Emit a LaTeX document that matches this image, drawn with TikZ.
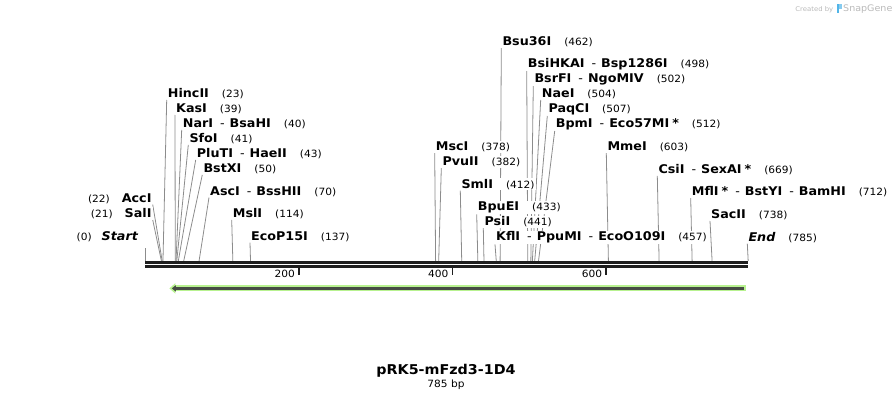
\documentclass[tikz,border=0pt]{standalone}
\usepackage{fontspec}
\setmainfont{DejaVu Sans}[FakeStretch=1.06]
\usepackage{tikz}
\usetikzlibrary{arrows.meta,backgrounds}
\usepackage{xcolor}

\definecolor{cutgray}{HTML}{8C8C8C}
\definecolor{rulerblack}{HTML}{1E1E1E}
\definecolor{feathalo}{HTML}{B8F290}
\definecolor{featdark}{HTML}{474C44}
\definecolor{markgray}{HTML}{B9B9B9}
\definecolor{snapblue}{HTML}{52B5E8}

\newcommand{\cutpos}[1]{{\mdseries\upshape\fontsize{10}{12}\selectfont(#1)}}
\newcommand{\enzsep}{\hspace{7pt}{\mdseries-}\hspace{5pt}}

\tikzset{
  enz/.style={font=\fontsize{12}{14}\selectfont\bfseries, inner sep=1pt, fill=white, anchor=base west},
  enzl/.style={enz, anchor=base east},
  cutline/.style={draw=cutgray, line width=0.8pt},
  ruler/.style={draw=rulerblack, line width=2.6pt},
  ticklbl/.style={font=\fontsize{10}{12}\selectfont, inner sep=0pt, anchor=base east},
}

\begin{document}
\begin{tikzpicture}[x=1pt,y=-1pt]
\useasboundingbox (0,0) rectangle (894,400);

% sequence ruler, x in bp
\begin{scope}[xshift=145.3pt,x=0.768pt]
\draw[ruler] (0,262.4) -- (785,262.4);
\draw[ruler] (0,266.6) -- (785,266.6);
\draw[rulerblack, line width=1.6pt] (200,267) -- (200,274.5);
\draw[rulerblack, line width=1.6pt] (400,267) -- (400,274.5);
\draw[rulerblack, line width=1.6pt] (600,267) -- (600,274.5);
\node[ticklbl] (t200) at (195,277) {200};
\node[ticklbl] (t400) at (395,277) {400};
\node[ticklbl] (t600) at (595,277) {600};

\draw[feathalo, line width=6pt, -{Triangle[length=6pt,width=10pt]}] (781.8,288.4) -- (31.3,288.4);
\draw[featdark, line width=2.6pt, -{Triangle[length=4pt,width=6pt]}] (779.2,288.4) -- (34.5,288.4);

\coordinate (s0) at (0,261);
\coordinate (s21) at (21,261);
\coordinate (s22) at (22,261);
\coordinate (s23) at (23,261);
\coordinate (s39) at (39,261);
\coordinate (s40) at (40,261);
\coordinate (s41) at (41,261);
\coordinate (s43) at (43,261);
\coordinate (s50) at (50,261);
\coordinate (s70) at (70,261);
\coordinate (s114) at (114,261);
\coordinate (s137) at (137,261);
\coordinate (s378) at (378,261);
\coordinate (s382) at (382,261);
\coordinate (s412) at (412,261);
\coordinate (s433) at (433,261);
\coordinate (s441) at (441,261);
\coordinate (s457) at (457,261);
\coordinate (s462) at (462,261);
\coordinate (s498) at (498,261);
\coordinate (s502) at (502,261);
\coordinate (s504) at (504,261);
\coordinate (s507) at (507,261);
\coordinate (s512) at (512,261);
\coordinate (s603) at (603,261);
\coordinate (s669) at (669,261);
\coordinate (s712) at (712,261);
\coordinate (s738) at (738,261);
\coordinate (s785) at (785,261);
\end{scope}

\node[enzl] (startl) at (139.5,240) {\cutpos{0}\hspace{10pt}\textit{Start}};
\node[enzl] (sal) at (152.7,217.3) {\cutpos{21}\hspace{12pt}SalI};
\node[enzl] (acc) at (152.7,202) {\cutpos{22}\hspace{12pt}AccI};

\node[enz] (hinc) at (166.7,97.3) {HincII\hspace{13pt}\cutpos{23}};
\node[enz] (kas) at (175,112.3) {KasI\hspace{13pt}\cutpos{39}};
\node[enz] (nar) at (181.7,127.3) {NarI\enzsep BsaHI\hspace{13pt}\cutpos{40}};
\node[enz] (sfo) at (188.3,142.3) {SfoI\hspace{13pt}\cutpos{41}};
\node[enz] (plu) at (195.7,157.3) {PluTI\enzsep HaeII\hspace{13pt}\cutpos{43}};
\node[enz] (bstx) at (202.3,172.3) {BstXI\hspace{13pt}\cutpos{50}};
\node[enz] (asc) at (209,195) {AscI\enzsep BssHII\hspace{13pt}\cutpos{70}};
\node[enz] (msl) at (231.7,217.3) {MslI\hspace{13pt}\cutpos{114}};
\node[enz] (ecop) at (250,240) {EcoP15I\hspace{13pt}\cutpos{137}};

\node[enz] (msc) at (434.7,150.7) {MscI\hspace{13pt}\cutpos{378}};
\node[enz] (pvu) at (441.3,165.7) {PvuII\hspace{13pt}\cutpos{382}};
\node[enz] (sml) at (460.3,188) {SmlI\hspace{13pt}\cutpos{412}};
\node[enz] (bpue) at (476.7,210.7) {BpuEI\hspace{13pt}\cutpos{433}};
\node[enz] (psi) at (483.3,225.7) {PsiI\hspace{13pt}\cutpos{441}};
\node[enz] (kfl) at (495,240.7) {KflI\enzsep PpuMI\enzsep EcoO109I\hspace{13pt}\cutpos{457}};

\node[enz] (bsu) at (501.3,45.7) {Bsu36I\hspace{13pt}\cutpos{462}};
\node[enz] (bsi) at (526.7,67.3) {BsiHKAI\enzsep Bsp1286I\hspace{13pt}\cutpos{498}};
\node[enz] (bsrf) at (533.3,82.3) {BsrFI\enzsep NgoMIV\hspace{13pt}\cutpos{502}};
\node[enz] (nae) at (540.7,97.3) {NaeI\hspace{13pt}\cutpos{504}};
\node[enz] (paq) at (547.3,112.3) {PaqCI\hspace{13pt}\cutpos{507}};
\node[enz] (bpm) at (554.7,127.3) {BpmI\enzsep Eco57MI\hspace{3pt}*\hspace{13pt}\cutpos{512}};

\node[enz] (mme) at (606.3,150.7) {MmeI\hspace{13pt}\cutpos{603}};
\node[enz] (csi) at (657.3,173.3) {CsiI\enzsep SexAI\hspace{3pt}*\hspace{13pt}\cutpos{669}};
\node[enz] (mfl) at (690.7,195.7) {MflI\hspace{3pt}*\enzsep BstYI\enzsep BamHI\hspace{13pt}\cutpos{712}};
\node[enz] (sac) at (710,218.3) {SacII\hspace{13pt}\cutpos{738}};
\node[enz] (endl) at (747.3,241) {\textit{End}\hspace{13pt}\cutpos{785}};

\begin{scope}[on background layer]
\draw[cutline] (s0) -- ++(0,-13);
\draw[cutline] (sal.south east) -- (s21);
\draw[cutline] (acc.south east) -- (s22);
\draw[cutline] (hinc.south west) -- (s23);
\draw[cutline] (kas.south west) -- (s39);
\draw[cutline] (nar.south west) -- (s40);
\draw[cutline] (sfo.south west) -- (s41);
\draw[cutline] (plu.south west) -- (s43);
\draw[cutline] (bstx.south west) -- (s50);
\draw[cutline] (asc.south west) -- (s70);
\draw[cutline] (msl.south west) -- (s114);
\draw[cutline] (ecop.south west) -- (s137);
\draw[cutline] (msc.south west) -- (s378);
\draw[cutline] (pvu.south west) -- (s382);
\draw[cutline] (sml.south west) -- (s412);
\draw[cutline] (bpue.south west) -- (s433);
\draw[cutline] (psi.south west) -- (s441);
\draw[cutline] (kfl.south west) -- (s457);
\draw[cutline] (bsu.south west) -- (s462);
\draw[cutline] (bsi.south west) -- (s498);
\draw[cutline] (bsrf.south west) -- (s502);
\draw[cutline] (nae.south west) -- (s504);
\draw[cutline] (paq.south west) -- (s507);
\draw[cutline] (bpm.south west) -- (s512);
\draw[cutline] (mme.south west) -- (s603);
\draw[cutline] (csi.south west) -- (s669);
\draw[cutline] (mfl.south west) -- (s712);
\draw[cutline] (sac.south west) -- (s738);
\draw[cutline] (endl.south west) -- (s785);
\end{scope}

\node[font=\fontsize{13.5}{15}\selectfont\bfseries, anchor=base] (mapname) at (446,374) {pRK5-mFzd3-1D4};
\node[font=\fontsize{10}{12}\selectfont, anchor=base] (maplen) at (446,387.7) {785 bp};

\node[font=\fontsize{6.5}{8}\selectfont, text=markgray, anchor=base east, inner sep=0pt] (made) at (833.5,11.5) {Created by};
\fill[snapblue] (836.5,3.5) rectangle (839.3,13);
\fill[snapblue!70] (839.3,3.5) rectangle (841.5,8.5);
\node[font=\fontsize{9}{11}\selectfont, text=markgray, anchor=base west, inner sep=0pt] (snap) at (843,11.5) {SnapGene};

\end{tikzpicture}
\end{document}
